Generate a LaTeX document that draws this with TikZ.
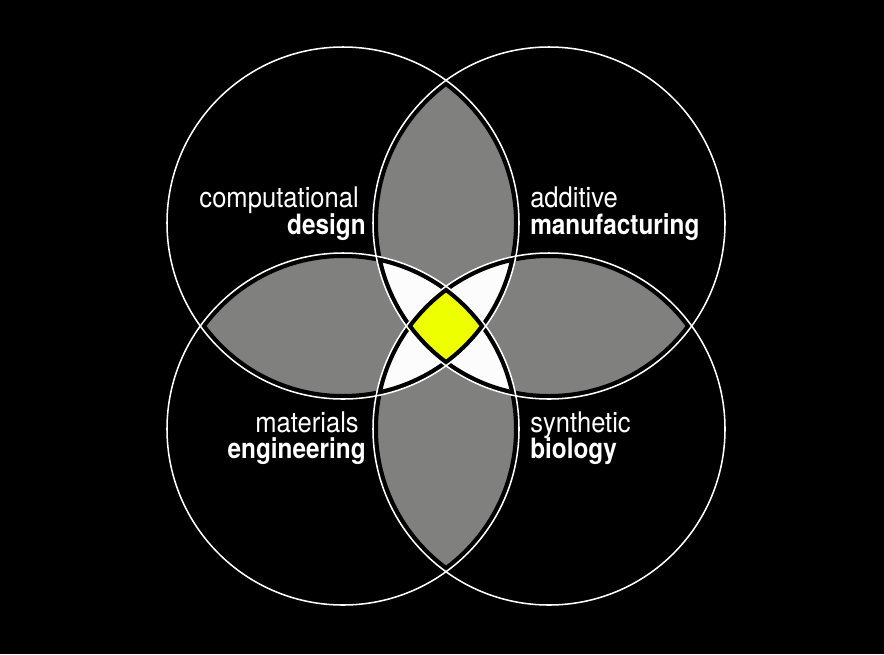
\documentclass[tikz,border=0pt]{standalone}
\usepackage{fontspec}
\setmainfont{TeX Gyre Heros}[FakeStretch=0.87]
\newfontfamily\lightlbl{TeX Gyre Heros}[FakeStretch=0.9]
\definecolor{lensgrey}{RGB}{128,129,126}
\definecolor{coreyellow}{RGB}{238,255,0}
\definecolor{petalwhite}{RGB}{252,252,252}
\begin{document}
\begin{tikzpicture}[x=0.75pt,y=-0.75pt,
  rad/.style={radius=132pt},
  ringband/.style={draw=black,line width=3.7pt,radius=130.1pt},
  ringline/.style={draw=white,line width=1.15pt,radius=132pt},
  lbl/.style={inner sep=0pt,text=white,font=\fontsize{21}{25}\selectfont},
  lbllight/.style={lbl,font=\lightlbl\fontsize{21.3}{25}\selectfont}]
\path[fill=black,use as bounding box] (0,0) rectangle (884,654);
\coordinate (tl) at (343,223);
\coordinate (tr) at (549,223);
\coordinate (bl) at (343,429);
\coordinate (br) at (549,429);
% two-circle lenses
\begin{scope}\clip (tl) circle[rad]; \fill[lensgrey] (tr) circle[rad];\end{scope}
\begin{scope}\clip (tl) circle[rad]; \fill[lensgrey] (bl) circle[rad];\end{scope}
\begin{scope}\clip (tr) circle[rad]; \fill[lensgrey] (br) circle[rad];\end{scope}
\begin{scope}\clip (bl) circle[rad]; \fill[lensgrey] (br) circle[rad];\end{scope}
% three-circle petals
\begin{scope}\clip (tl) circle[rad]; \clip (tr) circle[rad]; \fill[petalwhite] (bl) circle[rad];\end{scope}
\begin{scope}\clip (tl) circle[rad]; \clip (tr) circle[rad]; \fill[petalwhite] (br) circle[rad];\end{scope}
\begin{scope}\clip (tl) circle[rad]; \clip (bl) circle[rad]; \fill[petalwhite] (br) circle[rad];\end{scope}
\begin{scope}\clip (tr) circle[rad]; \clip (bl) circle[rad]; \fill[petalwhite] (br) circle[rad];\end{scope}
% four-circle core
\begin{scope}\clip (tl) circle[rad]; \clip (tr) circle[rad]; \clip (bl) circle[rad]; \fill[coreyellow] (br) circle[rad];\end{scope}
% black inner bands
\foreach \c in {tl,tr,bl,br} \path[ringband] (\c) circle[radius=130.1pt];
% white outlines
\foreach \c in {tl,tr,bl,br} \path[ringline] (\c) circle[radius=132pt];
% labels
\node[lbllight,anchor=base east] (l1) at (359,207) {computational};
\node[lbl,anchor=base east] (l2) at (366,234) {\bfseries design};
\node[lbllight,anchor=base west] (l3) at (530,207) {additive};
\node[lbl,anchor=base west] (l4) at (530,234) {\bfseries manufacturing};
\node[lbllight,anchor=base east] (l5) at (359,432) {materials};
\node[lbl,anchor=base east] (l6) at (366,458) {\bfseries engineering};
\node[lbllight,anchor=base west] (l7) at (530,432) {synthetic};
\node[lbl,anchor=base west] (l8) at (530,458) {\bfseries biology};
\end{tikzpicture}
\end{document}
